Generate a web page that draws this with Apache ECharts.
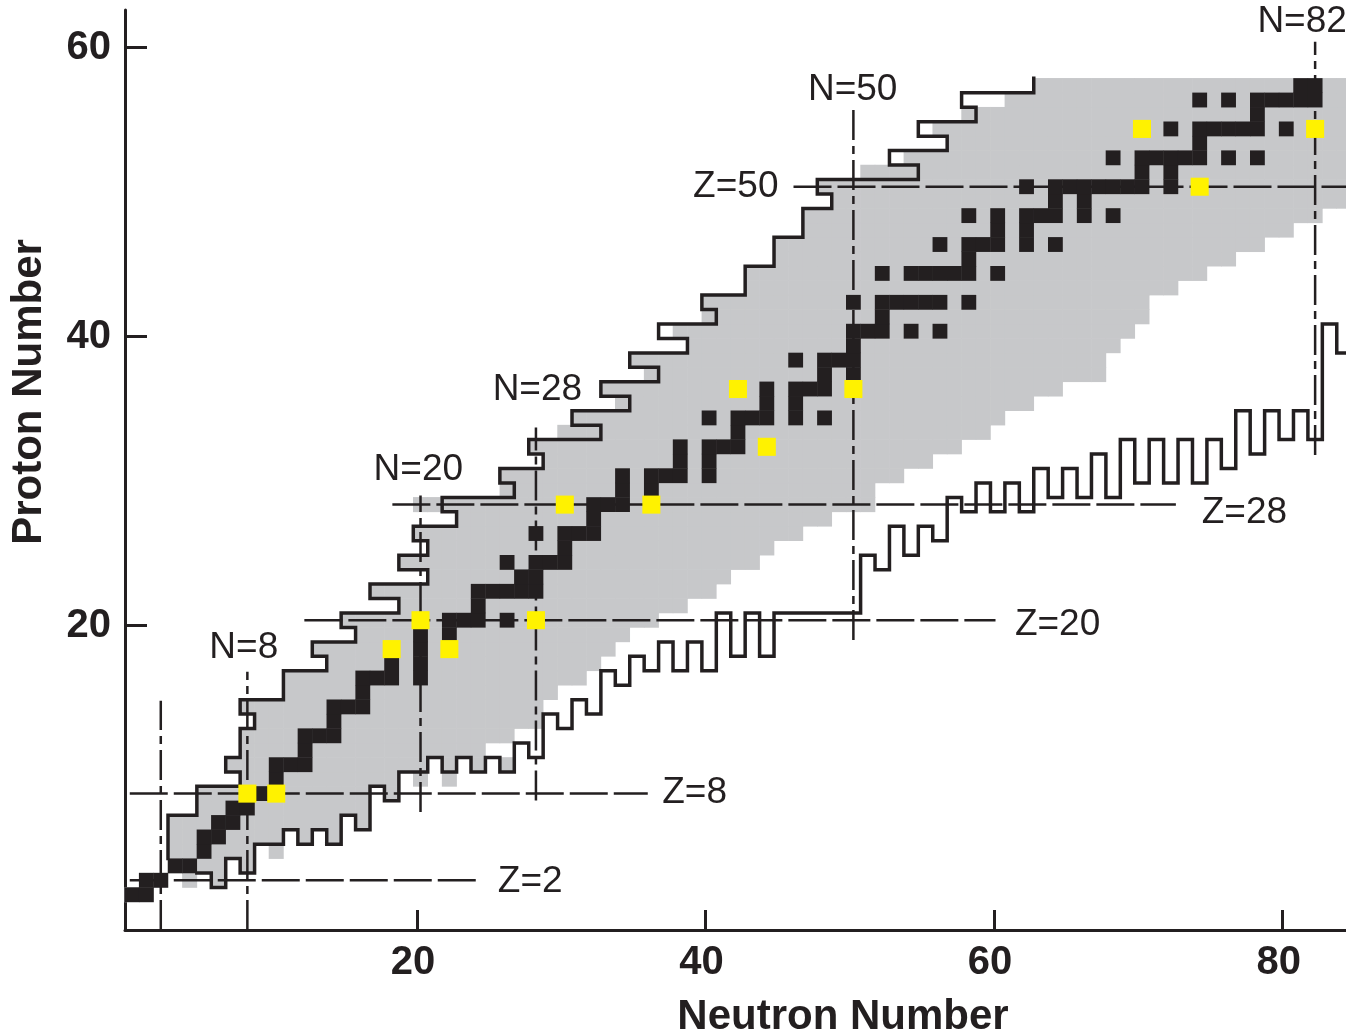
<!DOCTYPE html>
<html>
<head>
<meta charset="utf-8">
<title>Proton number vs neutron number</title>
<script src="https://cdn.jsdelivr.net/npm/echarts@6/dist/echarts.min.js"></script>
<style>
  html, body { margin: 0; padding: 0; background: #fff; }
  #chart { width: 1346px; height: 1035px; }
</style>
</head>
<body>
<div id="chart"></div>
<script>
// --- data ----------------------------------------------------------------

// stable nuclei: index = Z, list of N
const stableN = [
  [],
  [0, 1],
  [1, 2],
  [3, 4],
  [5],
  [5, 6],
  [6, 7],
  [7, 8],
  [8, 9, 10],
  [10],
  [10, 11, 12],
  [12],
  [12, 13, 14],
  [14],
  [14, 15, 16],
  [16],
  [16, 17, 18, 20],
  [18, 20],
  [18, 20, 22],
  [20, 22],
  [20, 22, 23, 24, 26, 28],
  [24],
  [24, 25, 26, 27, 28],
  [27, 28],
  [26, 28, 29, 30],
  [30],
  [28, 30, 31, 32],
  [32],
  [30, 32, 33, 34, 36],
  [34, 36],
  [34, 36, 37, 38, 40],
  [38, 40],
  [38, 40, 41, 42, 44],
  [42],
  [40, 42, 43, 44, 46, 48],
  [44, 46],
  [42, 44, 46, 47, 48, 50],
  [48, 50],
  [46, 48, 49, 50],
  [50],
  [50, 51, 52, 54, 56],
  [52],
  [50, 52, 53, 54, 55, 56, 58],
  [],
  [52, 54, 55, 56, 57, 58, 60],
  [58],
  [56, 58, 59, 60, 62, 64],
  [60, 62],
  [58, 60, 62, 63, 64, 66, 68],
  [64, 66],
  [62, 64, 65, 66, 67, 68, 69, 70, 72, 74],
  [70, 72],
  [68, 70, 71, 72, 73, 74, 76, 78],
  [74],
  [70, 72, 74, 75, 76, 77, 78, 80, 82],
  [78],
  [74, 76, 78, 79, 80, 81, 82],
  [81, 82]
]

// highlighted nuclei [N, Z]
const yellowCells = [[8, 8], [10, 8], [18, 18], [22, 18], [20, 20], [28, 20], [30, 28], [36, 28],
  [44, 32], [42, 36], [50, 36], [74, 50], [70, 54], [82, 54]]

// known nuclei (grey): per Z, first and last N
const grayFrom = [null, 0, 1, 3, 3, 3, 3, 5, 5, 8, 7, 8, 8, 9, 8, 11, 11, 14, 13, 16, 15, 19, 17, 21, 19, 21,
  20, 23, 20, 26, 26, 29, 28, 30, 31, 34, 33, 36, 35, 39, 38, 40, 40, 43, 43, 45, 45, 47, 47, 49, 48,
  51, 54, 57, 56, 58, 61, 63]
const grayTo = [null, 1, 2, 8, 8, 14, 16, 16, 18, 18, 26, 24, 26, 28, 28, 29, 31, 32, 33, 34, 36, 38, 40, 41,
  43, 44, 46, 48, 51, 51, 53, 55, 57, 59, 60, 62, 64, 67, 67, 68, 69, 70, 70, 72, 74, 76, 78, 80, 82,
  85, 85, 85, 85, 85, 85, 85, 85, 85]
const grayExtra = [[4, 2], [6, 2], [10, 4], [20, 9], [22, 9]]

// proton-rich limit: per Z, first N inside
const dripUpper = [null, null, null, null, 3, 3, 3, 5, 5, 8, 7, 8, 8, 9, 8, 11, 11, 14, 13, 16, 15, 19,
  17, 21, 19, 21, 20, 23, 22, 27, 26, 29, 28, 33, 31, 35, 33, 37, 35, 39, 37, 41, 40, 43, 43, 45, 45,
  47, 47, 49, 48, 55, 53, 57, 55, 59, 58, 63]
// neutron-rich limit: per N, lowest Z inside
const dripLower = [null, null, null, null, null, 3, 2, 4, 3, 5, 5, 6, 5, 6, 5, 7, 6, 9, 8, 10, 10, 11,
  10, 11, 10, 11, 10, 12, 11, 14, 13, 15, 14, 17, 16, 18, 17, 19, 17, 19, 17, 21, 18, 21, 18, 21, 21,
  21, 21, 21, 21, 25, 24, 27, 25, 27, 26, 29, 28, 30, 28, 30, 28, 31, 29, 31, 29, 32, 29, 33, 30, 33,
  30, 33, 30, 33, 31, 35, 32, 35, 33, 35, 33, 41, 39]

// magic numbers and the extent of their guide lines (axis units)
const magicN = [2, 8, 20, 28, 50, 82]
const magicNSpan = [[-1.07, 14.8], [-1.07, 16.8], [7.1, 29.0], [7.9, 33.7], [19.0, 55.7], [31.8, 60.4]]
const magicZ = [2, 8, 20, 28, 50]
const magicZSpan = [[0.1, 24.2], [0.1, 36.0], [12.2, 60.1], [18.3, 72.6], [46.1, 84.4]]

const lineLabels = ['N=8', 'N=20', 'N=28', 'N=50', 'N=82', 'Z=50', 'Z=28', 'Z=20', 'Z=8', 'Z=2']
const labelAt = [[8.0, 18.45], [20.1, 30.75], [28.35, 36.3], [50.2, 57.1], [81.35, 61.75],
  [42.1, 50.35], [77.35, 27.8], [64.4, 20.05], [39.25, 8.4], [27.85, 2.25]]

const xTicks = [20, 40, 60, 80]
const yTicks = [20, 40, 60]

// --- chart ---------------------------------------------------------------
const INK = '#231f20'
const GRAY = '#c7c8ca'
const YELLOW = '#fff200'
const FONT = '"Liberation Sans", Arial, Helvetica, sans-serif'
// cell centres sit a little off the integer tick positions in the original
const OX = 0.25
const OY = 0.37

const grayCells = []
for (let z = 0; z < grayFrom.length; z++) {
  if (grayFrom[z] == null) continue
  for (let n = grayFrom[z]; n <= grayTo[z]; n++) {
    const floor = dripLower[n]
    if (floor != null && z < floor) continue
    grayCells.push([n, z])
  }
}
grayExtra.forEach(c => grayCells.push(c))

const blackCells = []
stableN.forEach((list, z) => list.forEach(n => blackCells.push([n, z])))

const upperLine = []
dripUpper.forEach((n, z) => {
  if (n == null) return
  upperLine.push([n - 0.5 + OX, z - 0.5 + OY], [n - 0.5 + OX, z + 0.5 + OY])
})
const lowerLine = []
dripLower.forEach((z, n) => {
  if (z == null) return
  lowerLine.push([n - 0.5 + OX, z - 0.5 + OY], [n + 0.5 + OX, z - 0.5 + OY])
})

function cellRenderer(scale, pad) {
  return function(params, api) {
    const c = api.coord([api.value(0) + OX, api.value(1) + OY])
    const s = api.size([1, 1])
    const w = s[0] * scale + pad
    const h = s[1] * scale + pad
    return {
      type: 'rect',
      shape: { x: c[0] - w / 2, y: c[1] - h / 2, width: w, height: h },
      style: { fill: api.visual('color') }
    }
  }
}

function guideRenderer(vertical) {
  return function(params, api) {
    const v = api.value(0) + (vertical ? OX : OY)
    const a = vertical ? [v, api.value(1)] : [api.value(1), v]
    const b = vertical ? [v, api.value(2)] : [api.value(2), v]
    const p1 = api.coord(a)
    const p2 = api.coord(b)
    return {
      type: 'line',
      shape: { x1: p1[0], y1: p1[1], x2: p2[0], y2: p2[1] },
      style: { stroke: INK, lineWidth: 2.5, lineDash: vertical ? [30, 6, 8, 6] : [38, 6] }
    }
  }
}

const chart = echarts.init(document.getElementById('chart'))
chart.setOption({
  backgroundColor: '#fff',
  animation: false,
  grid: { left: 125, right: 0, top: 10, bottom: 105, containLabel: false, outerBoundsMode: 'none' },
  xAxis: {
    type: 'value',
    min: -0.23,
    max: 84.39,
    axisLine: { onZero: false, lineStyle: { color: INK, width: 3 } },
    axisTick: { inside: true, length: 20, customValues: xTicks, lineStyle: { color: INK, width: 3 } },
    axisLabel: {
      customValues: xTicks, color: INK, fontSize: 40, fontWeight: 'bold', fontFamily: FONT,
      margin: 13, padding: [0, 8, 0, 0]
    },
    splitLine: { show: false }
  },
  yAxis: {
    type: 'value',
    min: -1.07,
    max: 62.6,
    axisLine: { onZero: false, lineStyle: { color: INK, width: 3 } },
    axisTick: { inside: true, length: 22, customValues: yTicks, lineStyle: { color: INK, width: 3 } },
    axisLabel: { customValues: yTicks, color: INK, fontSize: 40, fontWeight: 'bold', fontFamily: FONT, margin: 14 },
    splitLine: { show: false }
  },
  graphic: [
    {
      type: 'text', x: 50, y: 392, rotation: Math.PI / 2, z: 100,
      style: { text: 'Proton Number', fill: INK, font: 'bold 42px ' + FONT, textAlign: 'center', textVerticalAlign: 'bottom' }
    },
    {
      type: 'text', x: 843, y: 1038, z: 100,
      style: { text: 'Neutron Number', fill: INK, font: 'bold 42px ' + FONT, textAlign: 'center', textVerticalAlign: 'bottom' }
    }
  ],
  series: [
    {
      name: 'known', type: 'custom', z: 1, silent: true,
      itemStyle: { color: GRAY },
      renderItem: cellRenderer(1, 0.6),
      data: grayCells
    },
    {
      name: 'N lines', type: 'custom', z: 2, silent: true,
      renderItem: guideRenderer(true),
      data: magicN.map((n, i) => [n, magicNSpan[i][0], magicNSpan[i][1]])
    },
    {
      name: 'Z lines', type: 'custom', z: 2, silent: true,
      renderItem: guideRenderer(false),
      data: magicZ.map((z, i) => [z, magicZSpan[i][0], magicZSpan[i][1]])
    },
    {
      name: 'proton drip', type: 'line', z: 3, silent: true, showSymbol: false,
      lineStyle: { color: INK, width: 3.5, join: 'miter', cap: 'square' },
      data: upperLine
    },
    {
      name: 'neutron drip', type: 'line', z: 3, silent: true, showSymbol: false,
      lineStyle: { color: INK, width: 3.5, join: 'miter', cap: 'square' },
      data: lowerLine
    },
    {
      name: 'stable', type: 'custom', z: 4, silent: true,
      itemStyle: { color: INK },
      renderItem: cellRenderer(1, 0.4),
      data: blackCells
    },
    {
      name: 'highlight', type: 'custom', z: 5, silent: true,
      itemStyle: { color: YELLOW },
      renderItem: cellRenderer(1.25, 0),
      data: yellowCells
    },
    {
      name: 'labels', type: 'custom', z: 6, silent: true,
      renderItem: function(params, api) {
        const p = api.coord([api.value(0), api.value(1)])
        return {
          type: 'text',
          x: p[0],
          y: p[1],
          style: {
            text: lineLabels[params.dataIndex], fill: INK, font: '37px ' + FONT,
            textAlign: 'center', textVerticalAlign: 'middle'
          }
        }
      },
      data: labelAt
    }
  ]
})
</script>
</body>
</html>
